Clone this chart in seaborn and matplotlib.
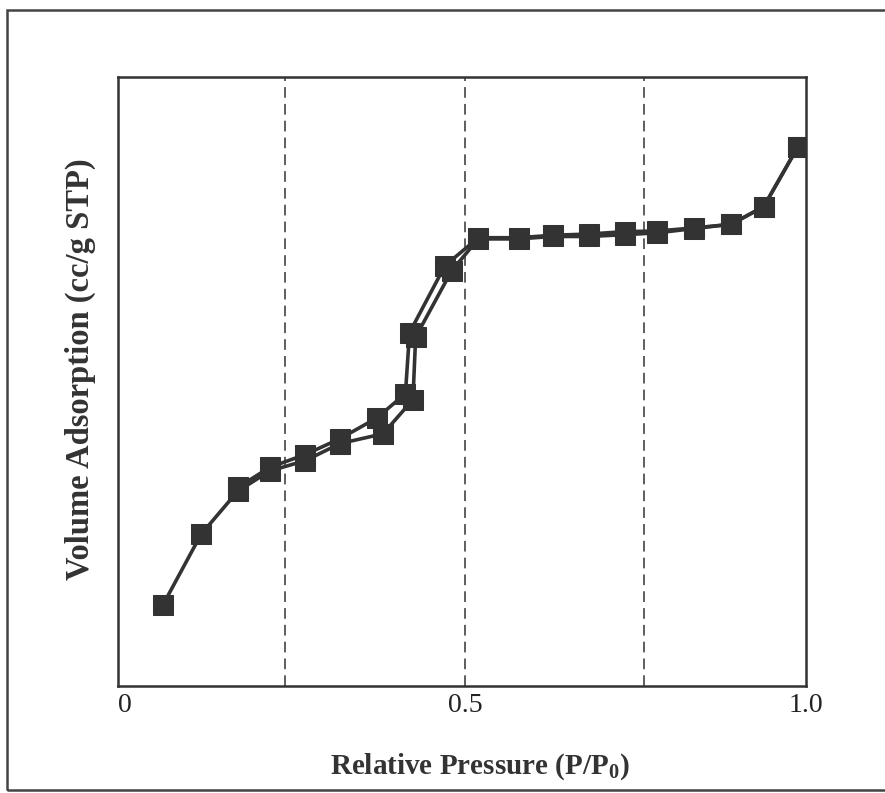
#Nitrogen adsorption / desorption isotherm with hysteresis loop
import pandas as pd
import matplotlib
matplotlib.use('Agg')
import matplotlib.pyplot as plt
from matplotlib.patches import Rectangle
import seaborn as sns

#adsorption branch (lower), low -> high pressure
adsX = [0.056, 0.112, 0.166, 0.213, 0.265, 0.316, 0.379, 0.423, 0.427, 0.480,
        0.519, 0.578, 0.628, 0.681, 0.735, 0.782, 0.835, 0.890, 0.938, 0.988]
adsY = [13.3, 24.9, 32.0, 35.3, 37.0, 39.8, 41.4, 47.0, 57.3, 68.2,
        73.4, 73.4, 73.8, 73.8, 74.1, 74.4, 75.1, 75.8, 78.7, 88.5]

#desorption branch (upper), high -> low pressure
desX = [0.988, 0.938, 0.890, 0.835, 0.782, 0.735, 0.681, 0.628, 0.578, 0.519,
        0.470, 0.418, 0.412, 0.370, 0.316, 0.265, 0.213, 0.166]
desY = [88.5, 78.7, 75.8, 75.2, 74.7, 74.6, 74.2, 74.0, 73.6, 73.6,
        69.0, 58.0, 48.0, 44.0, 40.6, 38.0, 35.9, 32.6]

tickPos = [0, 0.5, 1.0]
tickLab = ['0', '0.5', '1.0']
dashPos = [0.235, 0.5, 0.762]

ads = pd.DataFrame({'p': adsX, 'v': adsY, 'branch': 'adsorption'})
des = pd.DataFrame({'p': desX, 'v': desY, 'branch': 'desorption'})

sns.set_style('white')
plt.rcParams['font.family'] = ['Liberation Serif', 'DejaVu Serif']

ink = '#333333'
fig = plt.figure(figsize=(8.85, 7.93), dpi=100)
ax = fig.add_axes([0.1333, 0.135, 0.7774, 0.768])

for d in [ads, des]:
    sns.lineplot(data=d, x='p', y='v', sort=False, estimator=None, ax=ax,
                 color=ink, lw=2.6, marker='s', markersize=14,
                 markeredgecolor=ink, markerfacecolor=ink)

for xv in dashPos:
    ax.axvline(xv, color=ink, lw=1.1, ls=(0, (7, 4)), zorder=0)

ax.set_xlim(-0.01, 1.0)
ax.set_ylim(0, 100)
ax.set_xticks(tickPos)
ax.set_xticklabels(tickLab, fontsize=20, color='#222222')
ax.set_yticks([])
ax.tick_params(axis='x', length=0, pad=5)
for s in ax.spines.values():
    s.set_linewidth(1.8)
    s.set_color(ink)

ax.set_xlabel('Relative Pressure (P/P$_\\mathregular{0}$)', fontsize=21,
              fontweight='bold', color='#333333')
ax.set_ylabel('Volume Adsorption (cc/g STP)', fontsize=23.5,
              fontweight='bold', color='#333333')
ax.xaxis.set_label_coords(0.526, -0.108)
ax.yaxis.set_label_coords(-0.032, 0.52)

#outer frame of the scanned figure
fig.patches.append(Rectangle((0.008, 0.004), 1.2, 0.983, transform=fig.transFigure,
                             fill=False, lw=1.8, ec='#444444'))

plt.savefig('out.png', dpi=100)
